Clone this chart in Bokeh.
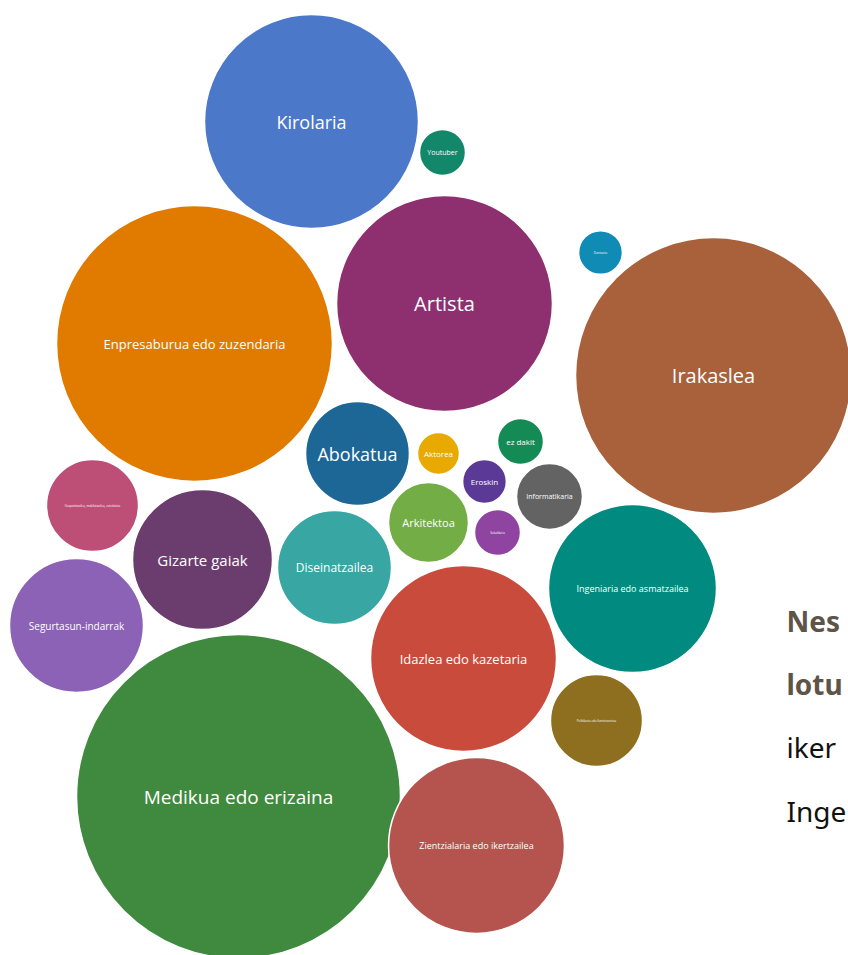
from bokeh.plotting import figure
from bokeh.models import Range1d, ColumnDataSource
from bokeh.core.properties import value
from bokeh.embed import file_html
from bokeh.resources import INLINE
import math

# --- data -------------------------------------------------------------
names = ["Kirolaria", "Youtuber", "Artista", "Enpresaburua edo zuzendaria",
         "Dantzaria", "Irakaslea", "Abokatua", "Aktorea", "ez dakit", "Eroskin",
         "Informatikaria", "Arkitektoa", "Sukaldaria",
         "Ileapaintzailea, makilatzailea, estetizista", "Gizarte gaiak",
         "Diseinatzailea", "Ingeniaria edo asmatzailea", "Segurtasun-indarrak",
         "Idazlea edo kazetaria", "Politikaria edo funtzionarioa",
         "Medikua edo erizaina", "Zientzialaria edo ikertzailea"]
values = [114.5, 5.3, 116.6, 190.4, 4.8, 190.4, 27.0, 4.4, 5.3, 4.8,
          10.9, 16.0, 5.3, 21.2, 49.0, 32.5, 70.6, 44.9, 86.5, 21.2,
          262.4, 77.4]
# bubble layout (packed positions)
cx = [311, 442, 444, 194, 600, 713, 357, 438, 520, 484, 549, 428, 497, 92,
      202, 334, 632, 76, 463, 596, 238, 476]
cy = [121, 152, 303, 343, 252, 375, 453, 453, 441, 481, 496, 522, 532, 505,
      559, 567, 588, 625, 658, 720, 796, 845]
side_text = ["Nes", "lotu", "iker", "Inge"]

# --- styles -------------------------------------------------------------
colors = ["#4C78C9", "#12876A", "#8E2F6F", "#E07B00", "#0F8BB5", "#A8613A",
          "#1D6796", "#E8A900", "#148A55", "#5B3A97", "#636363", "#72AD45",
          "#8E44A0", "#BD4F77", "#6B3D6E", "#38A6A3", "#008A80", "#8B62B5",
          "#C84B3C", "#8E6F20", "#3F8A3E", "#B5544E"]
font_px = [18, 7, 20, 13, 3, 20, 18, 8, 8, 8, 7, 11, 3, 3, 15, 12, 9, 10,
           13, 3, 19, 9]

radius = [10 * math.sqrt(v) for v in values]

W, H = 848, 955
p = figure(width=W, height=H, output_backend="svg", toolbar_location=None,
           x_range=Range1d(0, W), y_range=Range1d(H, 0),
           min_border=0, outline_line_color=None)
p.axis.visible = False
p.grid.visible = False
p.background_fill_color = "white"
p.border_fill_color = "white"

src = ColumnDataSource(dict(x=cx, y=cy, r=radius, c=colors, name=names,
                            fs=[f"{f}px" for f in font_px]))
p.circle(x="x", y="y", radius="r", fill_color="c", line_color="white",
         line_width=1.5, source=src)
p.text(x="x", y="y", text="name", text_color="white", text_font_size="fs",
       text_align="center", text_baseline="middle",
       text_font=value("Open Sans"), source=src)

sx = [786] * 4
sy = [620, 683, 746, 810]
p.text(x=sx[:2], y=sy[:2], text=side_text[:2], text_color="#5E5448",
       text_font_size="28px", text_font_style="bold",
       text_font=value("Noto Sans"), text_baseline="middle")
p.text(x=sx[2:], y=sy[2:], text=side_text[2:], text_color="#111111",
       text_font_size="28px", text_font=value("Noto Sans"),
       text_baseline="middle")

open("out.html", "w").write(file_html(p, INLINE))
